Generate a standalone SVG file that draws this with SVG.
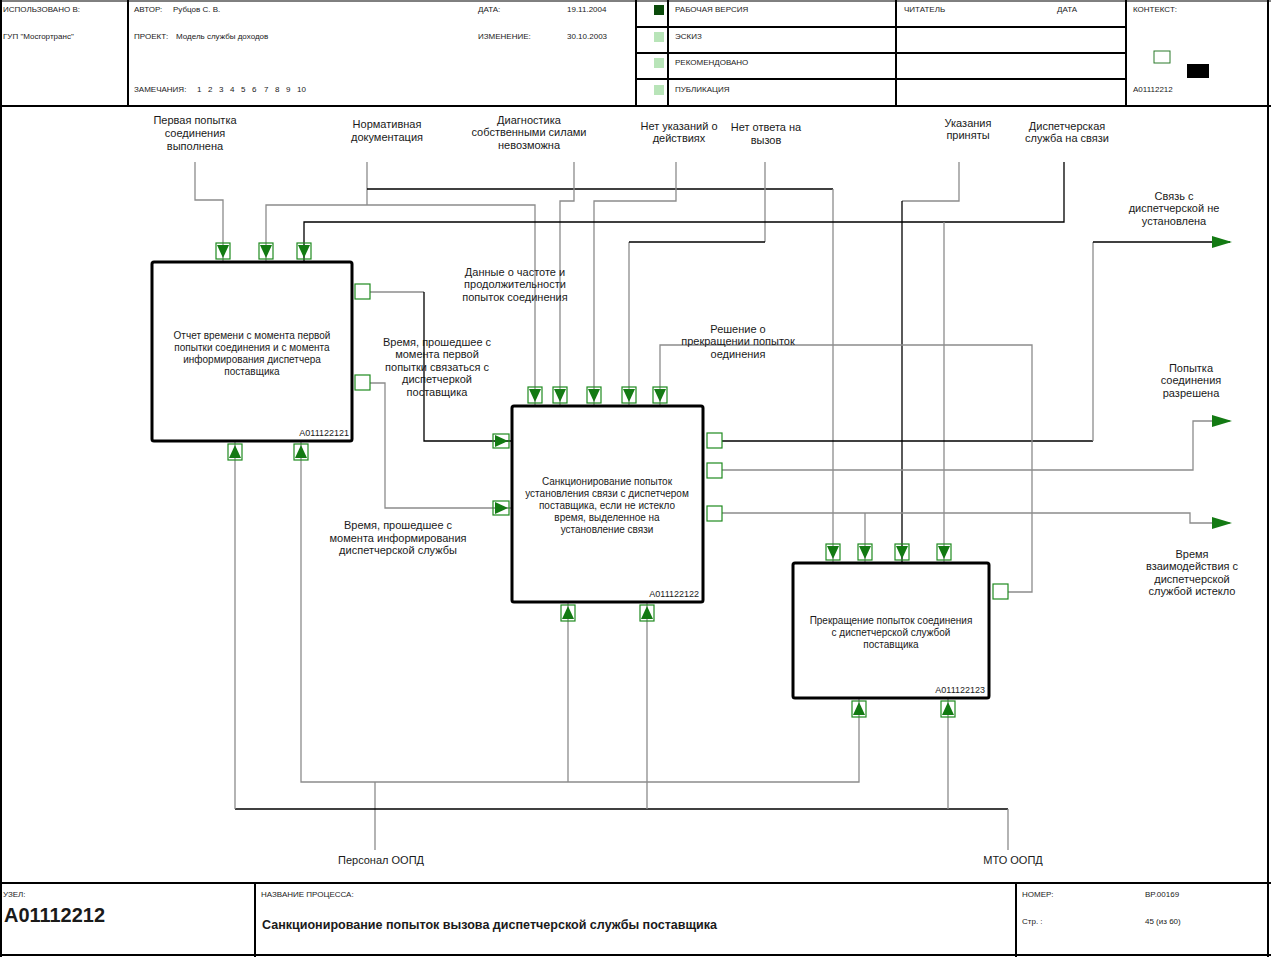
<svg xmlns="http://www.w3.org/2000/svg" xmlns:xlink="http://www.w3.org/1999/xlink" width="1271" height="957" viewBox="0 0 1271 957">
<style>
text{font-family:"Liberation Sans",Arial,sans-serif;fill:#1a1a1a}
.h{font-size:8px}
.lbl{font-size:11px;text-anchor:middle}
.bt{font-size:10px;text-anchor:middle}
.id{font-size:9px;text-anchor:end}
.frame{stroke:#000;stroke-width:2;fill:none}
.thin{stroke:#000;stroke-width:1;fill:none}
.box{fill:#fff;stroke:#000;stroke-width:3}
.g{stroke:#8c8c8c;stroke-width:1.3;fill:none}
.k{stroke:#000;stroke-width:1.3;fill:none}
.ab{fill:none;stroke:#1f8a1f;stroke-width:1.2}
.at{fill:#137a13}
</style>
<defs>
<g id="aDown"><rect class="ab" x="-7" y="-19" width="14" height="16"/><polygon class="at" points="-6,-17 6,-17 0,-4"/></g>
<g id="aUp"><rect class="ab" x="-7" y="3" width="14" height="16"/><polygon class="at" points="-6,17 6,17 0,4"/></g>
<g id="aRight"><rect class="ab" x="-19" y="-7" width="16" height="14"/><polygon class="at" points="-17,-6 -17,6 -4,0"/></g>
<g id="stub"><rect class="ab" x="3" y="-8" width="15" height="15"/></g>
<g id="aOut"><polygon class="at" points="-20,-6 -20,6 0,0"/></g>
</defs>
<rect width="1271" height="957" fill="#fff"/>

<g id="header">
<line class="thin" x1="0" y1="1" x2="1271" y2="1"/>
<line class="frame" x1="1" y1="0" x2="1" y2="957"/>
<line class="frame" x1="1268" y1="0" x2="1268" y2="957"/>
<line class="frame" x1="0" y1="106" x2="1271" y2="106"/>
<line class="frame" x1="128" y1="0" x2="128" y2="106"/>
<line class="frame" x1="636" y1="0" x2="636" y2="106"/>
<line class="frame" x1="668" y1="0" x2="668" y2="106"/>
<line class="frame" x1="896" y1="0" x2="896" y2="106"/>
<line class="frame" x1="1126" y1="0" x2="1126" y2="106"/>
<line class="frame" x1="636" y1="27" x2="1126" y2="27"/>
<line class="frame" x1="636" y1="53" x2="1126" y2="53"/>
<line class="frame" x1="636" y1="79" x2="1126" y2="79"/>
<text class="h" x="3" y="12">ИСПОЛЬЗОВАНО В:</text>
<text class="h" x="3" y="39">ГУП "Мосгортранс"</text>
<text class="h" x="134" y="12">АВТОР:</text>
<text class="h" x="173" y="12">Рубцов С. В.</text>
<text class="h" x="134" y="39">ПРОЕКТ:</text>
<text class="h" x="176" y="39">Модель службы доходов</text>
<text class="h" x="134" y="92">ЗАМЕЧАНИЯ:<tspan x="197">1</tspan><tspan x="208">2</tspan><tspan x="219">3</tspan><tspan x="230">4</tspan><tspan x="241">5</tspan><tspan x="252">6</tspan><tspan x="264">7</tspan><tspan x="275">8</tspan><tspan x="286">9</tspan><tspan x="297">10</tspan></text>
<text class="h" x="478" y="12">ДАТА:</text>
<text class="h" x="567" y="12">19.11.2004</text>
<text class="h" x="478" y="39">ИЗМЕНЕНИЕ:</text>
<text class="h" x="567" y="39">30.10.2003</text>
<rect x="654" y="5" width="10" height="10" fill="#0b4a0b"/>
<rect x="654" y="32" width="10" height="10" fill="#b8e4b8"/>
<rect x="654" y="58" width="10" height="10" fill="#b8e4b8"/>
<rect x="654" y="85" width="10" height="10" fill="#b8e4b8"/>
<text class="h" x="675" y="12">РАБОЧАЯ ВЕРСИЯ</text>
<text class="h" x="675" y="39">ЭСКИЗ</text>
<text class="h" x="675" y="65">РЕКОМЕНДОВАНО</text>
<text class="h" x="675" y="92">ПУБЛИКАЦИЯ</text>
<text class="h" x="904" y="12">ЧИТАТЕЛЬ</text>
<text class="h" x="1057" y="12">ДАТА</text>
<text class="h" x="1133" y="12">КОНТЕКСТ:</text>
<rect x="1154" y="51" width="16" height="12" fill="none" stroke="#2a7a2a" stroke-width="1"/>
<rect x="1187" y="64" width="22" height="14" fill="#000"/>
<text class="h" x="1133" y="92">A01112212</text>
</g>

<g id="footer">
<line class="frame" x1="0" y1="883" x2="1271" y2="883"/>
<line class="frame" x1="0" y1="955" x2="1271" y2="955"/>
<line class="frame" x1="255" y1="883" x2="255" y2="957"/>
<line class="frame" x1="1016" y1="883" x2="1016" y2="957"/>
<text class="h" x="3" y="897">УЗЕЛ:</text>
<text x="4" y="922" font-size="21" font-weight="bold" textLength="101" lengthAdjust="spacingAndGlyphs">A01112212</text>
<text class="h" x="261" y="897">НАЗВАНИЕ ПРОЦЕССА:</text>
<text x="262" y="929" font-size="12" font-weight="bold" textLength="455" lengthAdjust="spacingAndGlyphs">Санкционирование попыток вызова диспетчерской службы поставщика</text>
<text class="h" x="1022" y="897">НОМЕР:</text>
<text class="h" x="1145" y="897">BP.00169</text>
<text class="h" x="1022" y="924">Стр. :</text>
<text class="h" x="1145" y="924">45 (из 60)</text>
</g>

<g id="connectors">
<path class="g" d="M195,162 V200 H223 V262"/>
<path class="g" d="M367,162 V205 M266,262 V205 H535 V406"/>
<path class="k" d="M367,189 H833"/>
<path class="g" d="M833,189 V563"/>
<path class="g" d="M574,162 V201 H560 V406"/>
<path class="g" d="M676,162 V201 H594 V406"/>
<path class="g" d="M765,162 V242 M629,242 V406"/>
<path class="k" d="M765,242 H629"/>
<path class="g" d="M959,162 V201 H902"/>
<path class="k" d="M902,201 V563"/>
<path class="k" d="M1064,162 V222 H304 V262"/>
<path class="g" d="M944,222 V563"/>
<path class="g" d="M370,292 H424"/>
<path class="k" d="M424,292 V441 H512"/>
<path class="g" d="M370,383 H385 V508 H512"/>
<path class="k" d="M722,441 H1093"/>
<path class="g" d="M1093,441 V242"/>
<path class="k" d="M1093,242 H1230"/>
<path class="g" d="M722,470 H1193 V421 H1230"/>
<path class="g" d="M722,513 H1190 V523 H1230 M865,513 V563"/>
<path class="g" d="M1008,592 H1032 V345 H660 V406"/>
<path class="g" d="M375,850 V782 M301,441 V782 H859 V698 M568,602 V782"/>
<path class="k" d="M235,809 H1008"/>
<path class="g" d="M235,441 V809 M1008,850 V809 M647,602 V809 M948,698 V809"/>
<use href="#aOut" x="1232" y="242"/>
<use href="#aOut" x="1232" y="421"/>
<use href="#aOut" x="1232" y="523"/>
</g>

<g id="labels">
<text class="lbl" x="195" y="124">Первая попытка</text>
<text class="lbl" x="195" y="137">соединения</text>
<text class="lbl" x="195" y="150">выполнена</text>
<text class="lbl" x="387" y="128">Нормативная</text>
<text class="lbl" x="387" y="141">документация</text>
<text class="lbl" x="529" y="124">Диагностика</text>
<text class="lbl" x="529" y="136">собственными силами</text>
<text class="lbl" x="529" y="149">невозможна</text>
<text class="lbl" x="679" y="130">Нет указаний о</text>
<text class="lbl" x="679" y="142">действиях</text>
<text class="lbl" x="766" y="131">Нет ответа на</text>
<text class="lbl" x="766" y="144">вызов</text>
<text class="lbl" x="968" y="127">Указания</text>
<text class="lbl" x="968" y="139">приняты</text>
<text class="lbl" x="1067" y="130">Диспетчерская</text>
<text class="lbl" x="1067" y="142">служба на связи</text>
<text class="lbl" x="1174" y="200">Связь с</text>
<text class="lbl" x="1174" y="212">диспетчерской не</text>
<text class="lbl" x="1174" y="225">установлена</text>
<text class="lbl" x="515" y="276">Данные о частоте и</text>
<text class="lbl" x="515" y="288">продолжительности</text>
<text class="lbl" x="515" y="301">попыток соединения</text>
<text class="lbl" x="437" y="346">Время, прошедшее с</text>
<text class="lbl" x="437" y="358">момента первой</text>
<text class="lbl" x="437" y="371">попытки связаться с</text>
<text class="lbl" x="437" y="383">диспетчеркой</text>
<text class="lbl" x="437" y="396">поставщика</text>
<text class="lbl" x="738" y="333">Решение о</text>
<text class="lbl" x="738" y="345">прекращении попыток</text>
<text class="lbl" x="738" y="358">оединения</text>
<text class="lbl" x="398" y="529">Время, прошедшее с</text>
<text class="lbl" x="398" y="542">момента информирования</text>
<text class="lbl" x="398" y="554">диспетчерской службы</text>
<text class="lbl" x="1191" y="372">Попытка</text>
<text class="lbl" x="1191" y="384">соединения</text>
<text class="lbl" x="1191" y="397">разрешена</text>
<text class="lbl" x="1192" y="558">Время</text>
<text class="lbl" x="1192" y="570">взаимодействия с</text>
<text class="lbl" x="1192" y="583">диспетчерской</text>
<text class="lbl" x="1192" y="595">службой истекло</text>
<text class="lbl" x="381" y="864">Персонал ООПД</text>
<text class="lbl" x="1013" y="864">МТО ООПД</text>
</g>

<g id="node1">
<rect class="box" x="152" y="262" width="200" height="179" rx="2"/>
<text class="bt" x="252" y="339">Отчет времени с момента первой</text>
<text class="bt" x="252" y="351">попытки соединения и с момента</text>
<text class="bt" x="252" y="363">информирования диспетчера</text>
<text class="bt" x="252" y="375">поставщика</text>
<text class="id" x="349" y="436">A011122121</text>
<use href="#aDown" x="223" y="262"/>
<use href="#aDown" x="266" y="262"/>
<use href="#aDown" x="304" y="262"/>
<use href="#aUp" x="235" y="441"/>
<use href="#aUp" x="301" y="441"/>
<use href="#stub" x="352" y="292"/>
<use href="#stub" x="352" y="383"/>
</g>

<g id="node2">
<rect class="box" x="512" y="406" width="191" height="196" rx="2"/>
<text class="bt" x="607" y="485">Санкционирование попыток</text>
<text class="bt" x="607" y="497">установления связи с диспетчером</text>
<text class="bt" x="607" y="509">поставщика, если не истекло</text>
<text class="bt" x="607" y="521">время, выделенное на</text>
<text class="bt" x="607" y="533">установление связи</text>
<text class="id" x="699" y="597">A011122122</text>
<use href="#aDown" x="535" y="406"/>
<use href="#aDown" x="560" y="406"/>
<use href="#aDown" x="594" y="406"/>
<use href="#aDown" x="629" y="406"/>
<use href="#aDown" x="660" y="406"/>
<use href="#aRight" x="512" y="441"/>
<use href="#aRight" x="512" y="508"/>
<use href="#aUp" x="568" y="602"/>
<use href="#aUp" x="647" y="602"/>
<use href="#stub" x="704" y="441"/>
<use href="#stub" x="704" y="471"/>
<use href="#stub" x="704" y="514"/>
</g>

<g id="node3">
<rect class="box" x="793" y="563" width="196" height="135" rx="2"/>
<text class="bt" x="891" y="624">Прекращение попыток соединения</text>
<text class="bt" x="891" y="636">с диспетчерской службой</text>
<text class="bt" x="891" y="648">поставщика</text>
<text class="id" x="985" y="693">A011122123</text>
<use href="#aDown" x="833" y="563"/>
<use href="#aDown" x="865" y="563"/>
<use href="#aDown" x="902" y="563"/>
<use href="#aDown" x="944" y="563"/>
<use href="#aUp" x="859" y="698"/>
<use href="#aUp" x="948" y="698"/>
<use href="#stub" x="990" y="592"/>
</g>
</svg>
